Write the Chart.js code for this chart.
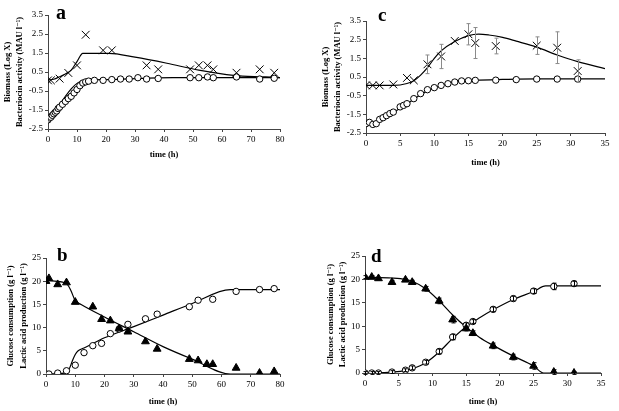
<!DOCTYPE html>
<html>
<head>
<meta charset="utf-8">
<script src="https://cdn.jsdelivr.net/npm/chart.js@4.4.0/dist/chart.umd.min.js"></script>
<style>
  html, body { margin: 0; padding: 0; background: #fff; }
  #wrap { position: relative; width: 619px; height: 411px; overflow: hidden; }
  canvas { position: absolute; }
</style>
</head>
<body>
<div id="wrap">
  <canvas id="cA" width="300" height="170" style="left:0;top:0"></canvas>
  <canvas id="cC" width="309" height="175" style="left:310px;top:0"></canvas>
  <canvas id="cB" width="300" height="211" style="left:0;top:200px"></canvas>
  <canvas id="cD" width="309" height="211" style="left:310px;top:200px"></canvas>
</div>
<script>
// ---- panel a : biomass / bacteriocin, 0-80 h ----
const aBactT = [0, 1, 4, 7, 10, 13, 19, 22, 34, 38, 49, 52, 55, 57, 65, 73, 78];
const aBactV = [0.06, 0.06, 0.15, 0.45, 0.85, 2.46, 1.64, 1.64, 0.85, 0.64, 0.64, 0.85, 0.85, 0.64, 0.46, 0.64, 0.46];
const aBioT = [0, 0.5, 1, 1.5, 2, 2.5, 3, 3.5, 4, 5, 6, 7, 8, 9, 10, 11, 12, 13, 14, 16, 19, 22, 25, 28, 31, 34, 38, 49, 52, 55, 57, 65, 73, 78];
const aBioV = [-2.02, -1.92, -1.88, -1.78, -1.7, -1.62, -1.55, -1.42, -1.35, -1.2, -1.05, -0.9, -0.78, -0.6, -0.42, -0.22, -0.08, -0.02, 0.02, 0.06, 0.06, 0.1, 0.13, 0.13, 0.2, 0.13, 0.16, 0.2, 0.2, 0.24, 0.2, 0.24, 0.13, 0.17];
const aBactFitT = [0, 2, 4, 6, 8, 10, 12, 21, 30, 41, 52, 64, 75, 80];
const aBactFitV = [0.08, 0.12, 0.25, 0.4, 0.6, 1.05, 1.48, 1.48, 1.28, 0.96, 0.6, 0.32, 0.24, 0.2];
const aBioFitT = [0, 12, 20, 43, 80];
const aBioFitV = [-2.05, 0.04, 0.1, 0.2, 0.2];

// ---- panel c : biomass / bacteriocin, 0-35 h ----
const cBactT = [0, 1, 2, 4, 6, 7, 9, 11, 13, 15, 16, 19, 25, 28, 31];
const cBactV = [0.05, 0.05, 0.05, 0.1, 0.45, 0.32, 1.18, 1.6, 2.43, 2.79, 2.32, 2.16, 2.18, 2.07, 0.82];
const cBactErr = [0, 0, 0, 0, 0, 0, 0.5, 0.65, 0, 0.57, 0.83, 0.42, 0.47, 0.85, 0.6];
const cBioT = [0, 0.5, 1, 1.5, 2, 2.5, 3, 3.5, 4, 5, 5.5, 6, 7, 8, 9, 10, 11, 12, 13, 14, 15, 16, 19, 22, 25, 28, 31];
const cBioV = [-2.0, -1.93, -2.04, -2.0, -1.77, -1.68, -1.57, -1.46, -1.38, -1.1, -1.02, -0.93, -0.66, -0.39, -0.18, -0.07, 0.05, 0.14, 0.23, 0.29, 0.3, 0.32, 0.33, 0.36, 0.39, 0.39, 0.39];
const cBactFitT = [0, 4, 6, 7, 8, 9, 10, 11, 13, 15, 16.5, 18, 20, 22, 25, 28, 31, 35];
const cBactFitV = [0.05, 0.05, 0.15, 0.3, 0.6, 1.0, 1.5, 1.9, 2.4, 2.72, 2.8, 2.75, 2.62, 2.42, 2.1, 1.68, 1.32, 0.95];
const cBioFitT = [0, 2, 4, 6, 8, 10, 12, 14, 16, 20, 25, 35];
const cBioFitV = [-2.0, -1.85, -1.4, -0.95, -0.45, -0.08, 0.15, 0.28, 0.33, 0.37, 0.4, 0.4];

// ---- panel b : glucose / lactic acid, 0-80 h ----
const bGluT = [0, 1, 4, 7, 10, 16, 19, 22, 25, 28, 34, 38, 49, 52, 55, 57, 65, 73, 78];
const bGluV = [20.0, 20.6, 19.3, 19.7, 15.5, 14.5, 11.8, 11.5, 9.8, 9.1, 7.0, 5.4, 3.2, 2.9, 2.1, 2.1, 1.3, 0.2, 0.55];
const bLacT = [0, 1, 4, 7, 10, 13, 16, 19, 22, 25, 28, 34, 38, 49, 52, 57, 65, 73, 78];
const bLacV = [0, 0, 0.2, 0.7, 1.9, 4.6, 6.1, 6.6, 8.7, 9.7, 10.7, 11.9, 12.9, 14.5, 15.9, 16.1, 17.8, 18.2, 18.4];
const bGluFitT = [0, 3, 7, 8.5, 10, 12, 20, 30, 40, 50, 63, 80];
const bGluFitV = [20.2, 20.0, 19.5, 18.0, 15.8, 15.0, 12.3, 9.1, 5.9, 3.2, 0, 0];
const bLacFitT = [0, 5, 7, 8, 9, 10, 11, 13, 20, 30, 40, 50, 63, 80];
const bLacFitV = [0, 0.1, 0.4, 1.2, 2.8, 4.2, 5.0, 5.6, 7.8, 10.2, 12.7, 15.2, 18.2, 18.2];

// ---- panel d : glucose / lactic acid, 0-35 h ----
const dGluT = [0, 1, 2, 4, 6, 7, 9, 11, 13, 15, 16, 19, 22, 25, 28, 31];
const dGluV = [20.5, 20.5, 20.2, 19.4, 19.9, 19.4, 18.0, 15.4, 11.4, 9.5, 8.5, 5.8, 3.4, 1.5, 0.2, 0.0];
const dGluErr = [0.3, 0.3, 0.3, 0.4, 0.3, 0.4, 0.5, 0.6, 0.7, 0.5, 0.5, 0.6, 0.6, 0.7, 0.5, 0.3];
const dLacT = [0, 1, 2, 4, 6, 7, 9, 11, 13, 15, 16, 19, 22, 25, 28, 31];
const dLacV = [0, 0, 0, 0.2, 0.6, 1.1, 2.3, 4.6, 7.7, 10.2, 11.0, 13.6, 15.9, 17.5, 18.5, 19.1];
const dLacErr = [0.3, 0.3, 0.3, 0.3, 0.3, 0.4, 0.4, 0.5, 0.6, 0.5, 0.4, 0.5, 0.5, 0.5, 0.7, 0.5];
const dGluFitT = [0, 4, 6, 7, 9, 11, 13, 15, 17, 19, 22, 25, 26.5, 35];
const dGluFitV = [20.5, 20.3, 20.0, 19.6, 18.0, 15.4, 12.4, 9.8, 7.6, 5.9, 3.6, 1.5, 0, 0];
const dLacFitT = [0, 4, 6, 7, 9, 11, 13, 15, 17, 19, 22, 25, 26.8, 35];
const dLacFitV = [0, 0.2, 0.5, 0.9, 2.2, 4.5, 7.4, 9.9, 11.8, 13.5, 15.7, 17.4, 18.6, 18.6];

const bioTitle = ['Biomass (Log X)', 'Bacteriocin activity (MAU l\u207B\u00B9)'];
const gluTitle = ['Glucose consumption (g l\u207B\u00B9)', 'Lactic acid production (g l\u207B\u00B9)'];
const xTitle = 'time (h)';

const SERIF = '"Liberation Serif", "DejaVu Serif", serif';
const pts = (t, v) => t.map((x, i) => ({ x, y: v[i] }));

// barras de error (con los valores de las escalas)
const errorBars = {
    id: 'errorBars',
    afterDatasetsDraw(chart) {
        const { ctx, scales: { x, y } } = chart;
        chart.data.datasets.forEach(ds => {
            if (!ds.errors) return;
            ctx.save();
            ctx.strokeStyle = ds.errorColor || '#000';
            ctx.lineWidth = 1;
            ds.data.forEach((p, i) => {
                const e = ds.errors[i];
                if (!e) return;
                const px = Math.round(x.getPixelForValue(p.x)) + 0.5;
                const top = y.getPixelForValue(p.y + e);
                const bot = y.getPixelForValue(p.y - e);
                ctx.beginPath();
                ctx.moveTo(px, top); ctx.lineTo(px, bot);
                ctx.moveTo(px - 2, top); ctx.lineTo(px + 2, top);
                ctx.moveTo(px - 2, bot); ctx.lineTo(px + 2, bot);
                ctx.stroke();
            });
            ctx.restore();
        });
    }
};

// letra del panel
const panelLetter = {
    id: 'panelLetter',
    afterDraw(chart, args, opts) {
        const { ctx, chartArea } = chart;
        ctx.save();
        ctx.font = 'bold ' + (opts.size || 19) + 'px ' + SERIF;
        ctx.fillStyle = '#000';
        ctx.textBaseline = 'alphabetic';
        ctx.fillText(opts.text, chartArea.left + opts.dx, chartArea.top + opts.dy);
        ctx.restore();
    }
};

const markX = (data) => ({ data, showLine: false, pointStyle: 'crossRot', pointRadius: 5.5, borderColor: '#000', pointBorderColor: '#000', pointBorderWidth: 1, backgroundColor: '#000' });
const markO = (data) => ({ data, showLine: false, pointStyle: 'circle', pointRadius: 3.2, pointBackgroundColor: '#fff', pointBorderColor: '#000', pointBorderWidth: 1 });
const markT = (data) => ({ data, showLine: false, pointStyle: 'triangle', pointRadius: 4.5, pointBackgroundColor: '#000', pointBorderColor: '#000', pointBorderWidth: 1 });
const fitLine = (data) => ({ data, showLine: true, pointRadius: 0, borderColor: '#000', borderWidth: 1.2, cubicInterpolationMode: 'monotone', fill: false });

function makeChart(id, o) {
    return new Chart(document.getElementById(id), {
        type: 'scatter',
        data: { datasets: o.datasets },
        plugins: [errorBars, panelLetter],
        options: {
            responsive: false,
            animation: false,
            devicePixelRatio: 1,
            layout: { padding: o.pad },
            plugins: {
                legend: { display: false },
                tooltip: { enabled: false },
                panelLetter: o.letter
            },
            scales: {
                x: {
                    type: 'linear', min: o.xMin, max: o.xMax,
                    afterFit: s => { s.height = o.xH; },
                    border: { color: '#444', width: 1 },
                    grid: { drawOnChartArea: false, color: '#444', tickLength: 3 },
                    ticks: { stepSize: o.xStep, autoSkip: false, maxRotation: 0, padding: 2, color: '#000', font: { family: SERIF, size: 9 } },
                    title: { display: true, text: xTitle, color: '#000', padding: { top: 0, bottom: o.xTitlePad }, font: { family: SERIF, size: 8.5, weight: 'bold' } }
                },
                y: {
                    type: 'linear', min: o.yMin, max: o.yMax,
                    afterFit: s => { s.width = o.yW; },
                    border: { color: '#444', width: 1 },
                    grid: { drawOnChartArea: false, color: '#444', tickLength: 3 },
                    ticks: { stepSize: o.yStep, autoSkip: false, padding: 2, color: '#000', font: { family: SERIF, size: 9 }, callback: o.yFmt },
                    title: { display: true, text: o.yTitle, color: '#000', padding: { top: o.yTitlePad, bottom: 0 }, font: { family: SERIF, size: 8.5, weight: 'bold', lineHeight: 1.5 } }
                }
            }
        }
    });
}

const fmt1 = v => v.toFixed(1);

makeChart('cA', {
    datasets: [markX(pts(aBactT, aBactV)), markO(pts(aBioT, aBioV)), fitLine(pts(aBactFitT, aBactFitV)), fitLine(pts(aBioFitT, aBioFitV))],
    pad: { top: 15, right: 20, left: 0, bottom: 0 },
    xMin: 0, xMax: 80, xStep: 10, xH: 41, xTitlePad: 10,
    yMin: -2.5, yMax: 3.5, yStep: 1, yW: 48, yTitlePad: 1, yFmt: fmt1, yTitle: bioTitle,
    letter: { text: 'a', dx: 8, dy: 4, size: 20 }
});

const cX = markX(pts(cBactT, cBactV));
cX.errors = cBactErr; cX.errorColor = '#8a8a8a';
makeChart('cC', {
    datasets: [cX, markO(pts(cBioT, cBioV)), fitLine(pts(cBactFitT, cBactFitV)), fitLine(pts(cBioFitT, cBioFitV))],
    pad: { top: 21, right: 14, left: 0, bottom: 0 },
    xMin: 0, xMax: 35, xStep: 5, xH: 42, xTitlePad: 7,
    yMin: -2.5, yMax: 3.5, yStep: 1, yW: 56, yTitlePad: 9, yFmt: fmt1, yTitle: bioTitle,
    letter: { text: 'c', dx: 12, dy: 0, size: 19 }
});

makeChart('cB', {
    datasets: [markT(pts(bGluT, bGluV)), markO(pts(bLacT, bLacV)), fitLine(pts(bGluFitT, bGluFitV)), fitLine(pts(bLacFitT, bLacFitV))],
    pad: { top: 58, right: 20, left: 0, bottom: 0 },
    xMin: 0, xMax: 80, xStep: 10, xH: 37, xTitlePad: 4,
    yMin: 0, yMax: 25, yStep: 5, yW: 46, yTitlePad: 4.5, yTitle: gluTitle,
    letter: { text: 'b', dx: 11, dy: 3, size: 19 }
});

const dT = markT(pts(dGluT, dGluV));
dT.errors = dGluErr;
const dO = markO(pts(dLacT, dLacV));
dO.errors = dLacErr;
makeChart('cD', {
    datasets: [dT, dO, fitLine(pts(dGluFitT, dGluFitV)), fitLine(pts(dLacFitT, dLacFitV))],
    pad: { top: 56, right: 18, left: 0, bottom: 0 },
    xMin: 0, xMax: 35, xStep: 5, xH: 38, xTitlePad: 4,
    yMin: 0, yMax: 25, yStep: 5, yW: 55, yTitlePad: 14, yTitle: gluTitle,
    letter: { text: 'd', dx: 6, dy: 6, size: 19 }
});
</script>
</body>
</html>
